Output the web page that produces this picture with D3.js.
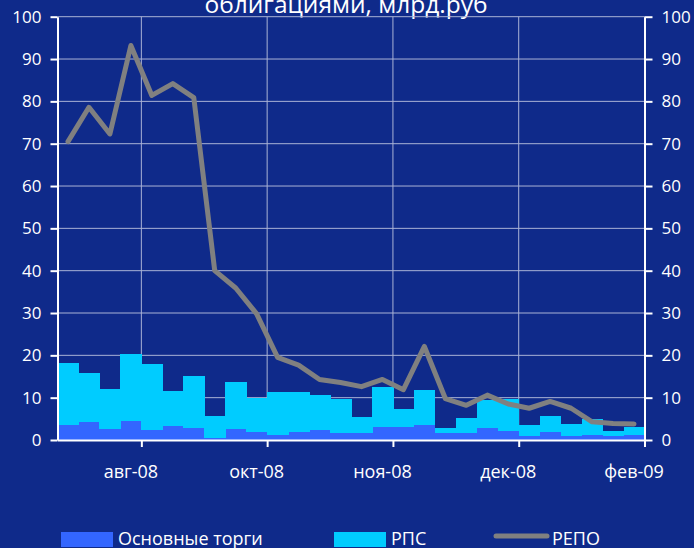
<!DOCTYPE html>
<html>
<head>
<meta charset="utf-8">
<script src="https://cdn.jsdelivr.net/npm/d3@7"></script>
<style>
  body { margin: 0; background: #0f2a8a; }
  svg { display: block; font-family: "Open Sans", sans-serif; }
</style>
</head>
<body>
<div id="chart"></div>
<script>
// weekly categories, only every 6th one is labelled on the axis
const categories = ["", "", "", "авг-08", "", "", "", "", "", "окт-08", "", "", "", "", "",
  "ноя-08", "", "", "", "", "", "дек-08", "", "", "", "", "", "фев-09"];
const mainTrade = [3.5, 4.3, 2.6, 4.5, 2.4, 3.3, 2.8, 0.5, 2.6, 1.9, 1.2, 1.9, 2.4, 1.7,
  1.7, 3.1, 3.1, 3.5, 1.7, 1.7, 2.8, 2.1, 0.9, 1.9, 0.9, 1.2, 0.9, 1.2];
const rps = [14.6, 11.5, 9.5, 15.8, 15.6, 8.3, 12.3, 5.2, 11.1, 8.0, 10.1, 9.4, 8.2, 8.0,
  3.7, 9.4, 4.2, 8.3, 1.1, 3.5, 6.7, 7.5, 2.6, 3.8, 2.9, 3.8, 1.2, 1.9];
const repo = [70.5, 78.6, 72.3, 93.2, 81.4, 84.2, 80.9, 40.0, 35.9, 29.8, 19.5, 17.7, 14.3, 13.6,
  12.6, 14.3, 11.9, 22.1, 9.8, 8.2, 10.6, 8.5, 7.5, 9.1, 7.5, 4.3, 3.9, 3.8];
const yTicks = [0, 10, 20, 30, 40, 50, 60, 70, 80, 90, 100];
const seriesNames = ["Основные торги", "РПС", "РЕПО"];

const W = 694, H = 548;
const m = { left: 57.5, right: 644.5, top: 16.7, bottom: 440 };
const colBlue = "#3366ff", colCyan = "#00ccff", colGray = "#808080";
const gridCol = "#aab3d6";

const svg = d3.select("#chart").append("svg")
  .attr("width", W).attr("height", H);

svg.append("rect").attr("width", W).attr("height", H).attr("fill", "#0f2a8a");

const idx = d3.range(categories.length);
const x = d3.scaleBand().domain(idx).range([m.left, m.right]).padding(0);
const xEdge = d3.scaleLinear([0, categories.length], [m.left, m.right]);
const y = d3.scaleLinear([0, 100], [m.bottom, m.top]);

// title (cut off at the top in the original)
svg.append("text")
  .attr("x", 346).attr("y", 13)
  .attr("text-anchor", "middle")
  .attr("fill", "#fff").attr("font-size", 24.5)
  .text("облигациями, млрд.руб");

// grid
svg.append("g").selectAll("line")
  .data(yTicks.filter(d => d > 0))
  .join("line")
  .attr("x1", m.left).attr("x2", m.right)
  .attr("y1", d => y(d)).attr("y2", d => y(d))
  .attr("stroke", gridCol).attr("stroke-width", 1);

const boundaries = idx.filter(i => categories[i] !== "").map(i => i + 1);
svg.append("g").selectAll("line")
  .data(boundaries.filter(b => b < categories.length))
  .join("line")
  .attr("x1", d => xEdge(d)).attr("x2", d => xEdge(d))
  .attr("y1", m.top).attr("y2", m.bottom)
  .attr("stroke", gridCol).attr("stroke-width", 1);

// stacked bars
const rows = idx.map(i => ({ i, main: mainTrade[i], rps: rps[i] }));
const stack = d3.stack().keys(["main", "rps"])(rows);
const colors = [colBlue, colCyan];

svg.append("g").selectAll("g")
  .data(stack)
  .join("g")
  .attr("fill", (d, k) => colors[k])
  .attr("shape-rendering", "crispEdges")
  .selectAll("rect")
  .data(d => d)
  .join("rect")
  .attr("x", d => x(d.data.i))
  .attr("width", x.bandwidth() + 0.6)
  .attr("y", d => y(d[1]))
  .attr("height", d => y(d[0]) - y(d[1]));

// repo line
const line = d3.line()
  .x((d, i) => x(i) + x.bandwidth() / 2)
  .y(d => y(d));

svg.append("path")
  .datum(repo)
  .attr("d", line)
  .attr("fill", "none")
  .attr("stroke", colGray)
  .attr("stroke-width", 5)
  .attr("stroke-linejoin", "round")
  .attr("stroke-linecap", "round");

// axes
const styleAxis = g => {
  g.selectAll("path.domain").attr("stroke", "#fff").attr("stroke-width", 2);
  g.selectAll(".tick line").attr("stroke", "#fff").attr("stroke-width", 2);
  g.selectAll(".tick text").attr("fill", "#fff").attr("font-size", 17)
    .attr("font-family", "Open Sans, sans-serif");
};

svg.append("g")
  .attr("transform", `translate(${m.left},0)`)
  .call(d3.axisLeft(y).tickValues(yTicks).tickSize(7).tickSizeOuter(0).tickPadding(9))
  .call(styleAxis);

svg.append("g")
  .attr("transform", `translate(${m.right},0)`)
  .call(d3.axisRight(y).tickValues(yTicks).tickSize(8).tickSizeOuter(0).tickPadding(9))
  .call(styleAxis);

// x axis: ticks at category boundaries, labels at category centres
svg.append("g")
  .attr("transform", `translate(0,${m.bottom})`)
  .call(d3.axisBottom(xEdge).tickValues(boundaries).tickSize(7).tickSizeOuter(0).tickFormat(""))
  .call(styleAxis);

svg.append("g").selectAll("text")
  .data(idx.filter(i => categories[i] !== ""))
  .join("text")
  .attr("x", i => x(i) + x.bandwidth() / 2)
  .attr("y", 478)
  .attr("text-anchor", "middle")
  .attr("fill", "#fff").attr("font-size", 18)
  .text(i => categories[i]);

// legend
const legend = svg.append("g");
const legX = [61, 334, 494];
legend.append("rect").attr("x", legX[0]).attr("y", 532).attr("width", 52).attr("height", 15).attr("fill", colBlue);
legend.append("rect").attr("x", legX[1]).attr("y", 532).attr("width", 52).attr("height", 15).attr("fill", colCyan);
legend.append("line").attr("x1", legX[2] + 2).attr("x2", legX[2] + 53).attr("y1", 536).attr("y2", 536)
  .attr("stroke", colGray).attr("stroke-width", 5).attr("stroke-linecap", "round");
legend.selectAll("text")
  .data(seriesNames)
  .join("text")
  .attr("x", (d, i) => [118, 391, 552][i])
  .attr("y", 545)
  .attr("fill", "#fff").attr("font-size", 18)
  .text(d => d);
</script>
</body>
</html>
